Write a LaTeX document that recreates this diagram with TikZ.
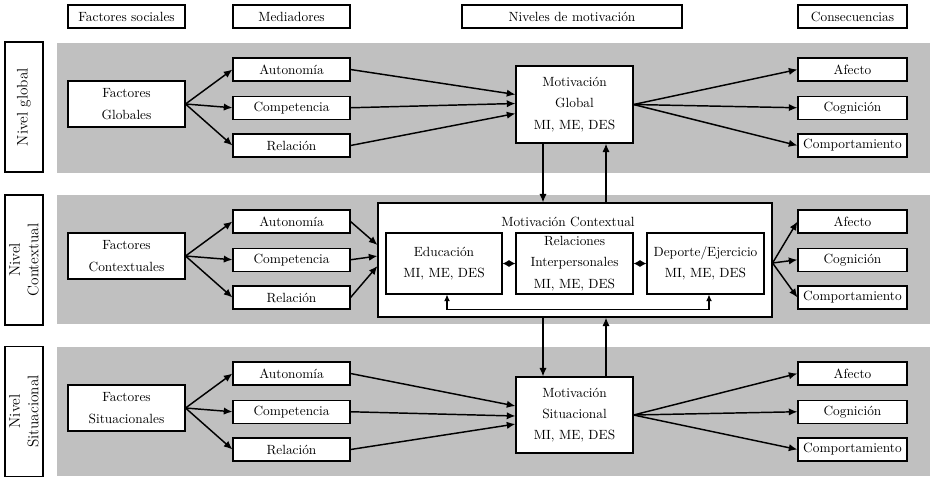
\documentclass[tikz,border=0pt]{standalone}
\usepackage{fontspec}
\usetikzlibrary{arrows.meta, calc, positioning}
\definecolor{banda}{RGB}{192,192,192}

\begin{document}
\begin{tikzpicture}[x=0.75pt, y=-0.75pt,
    caja/.style={draw, fill=white, line width=0.8pt, align=center, inner sep=0pt,
        minimum width=87.75pt, minimum height=17.25pt, font=\fontsize{10}{16}\selectfont},
    factor/.style={caja, minimum height=34.5pt},
    conse/.style={caja, minimum width=81.75pt},
    nivel/.style={caja, rotate=90, minimum width=97.5pt, minimum height=28.5pt,
        font=\fontsize{11.5}{14}\selectfont},
    flecha/.style={line width=1.1pt, -{Latex[length=6.5pt, width=5.5pt]}},
    doble/.style={line width=1pt, {Latex[length=5pt, width=5.5pt]}-{Latex[length=5pt, width=5.5pt]}}]

    \useasboundingbox (0,0) rectangle (930,476);

    % bandas de fondo
    \fill[banda] (57,43) rectangle (930,173);
    \fill[banda] (57,195) rectangle (930,324);
    \fill[banda] (57,347) rectangle (930,476);

    % cabeceras
    \node[caja] (hfs) at (126.5,16.5) {Factores sociales};
    \node[caja] (hmed) at (291.5,16.5) {Mediadores};
    \node[caja, minimum width=165pt] (hniv) at (572,16.5) {Niveles de motivación};
    \node[conse] (hcon) at (852.5,16.5) {Consecuencias};

    % niveles
    \node[nivel] (ng) at (24,107) {Nivel global};
    \node[nivel] (nc) at (24,260) {Nivel\\Contextual};
    \node[nivel] (ns) at (24,411.5) {Nivel\\Situacional};

    % filas: factores, mediadores y consecuencias
    \foreach \n/\y/\fac in {g/104/Globales, c/256/Contextuales, s/408/Situacionales}{
        \node[factor] (f\n) at (126.5,\y) {Factores\\\fac};
        \node[caja] (a\n) at (291.5,\y-34.5) {Autonomía};
        \node[caja] (c\n) at (291.5,\y+3.75) {Competencia};
        \node[caja] (r\n) at (291.5,\y+41.5) {Relación};
        \node[conse] (af\n) at (852.5,\y-34.5) {Afecto};
        \node[conse] (co\n) at (852.5,\y+3.75) {Cognición};
        \node[conse] (cp\n) at (852.5,\y+41.5) {Comportamiento};
        \draw[flecha] (f\n.east) -- (a\n.west);
        \draw[flecha] (f\n.east) -- (c\n.west);
        \draw[flecha] (f\n.east) -- (r\n.west);
    }

    % motivacion
    \node[caja, minimum height=57.75pt] (mg) at (574.5,104.5) {Motivación\\Global\\MI, ME, DES};
    \node[caja, minimum width=295.5pt, minimum height=85.5pt] (mc) at (575,260) {};
    \node[font=\fontsize{10}{16}\selectfont, inner sep=0pt] (mct) at (568,222) {Motivación Contextual};
    \node[caja, minimum width=87pt, minimum height=45.75pt] (edu) at (444,263.5) {Educación\\MI, ME, DES};
    \node[caja, minimum height=45.75pt] (rel) at (574.5,263.5) {Relaciones\\Interpersonales\\MI, ME, DES};
    \node[caja, minimum height=45.75pt] (dep) at (705.5,263.5) {Deporte/Ejercicio\\MI, ME, DES};
    \node[caja, minimum height=57pt] (ms) at (574.5,415) {Motivación\\Situacional\\MI, ME, DES};

    % mediadores -> motivacion
    \draw[flecha] (ag.east) -- ($(mg.west)+(0,-10)$);
    \draw[flecha] (cg.east) -- ($(mg.west)+(0,-1)$);
    \draw[flecha] (rg.east) -- ($(mg.west)+(0,9)$);
    \draw[flecha] (ac.east) -- ($(mc.west)+(0,-15)$);
    \draw[flecha] (cc.east) -- ($(mc.west)+(0,-4)$);
    \draw[flecha] (rc.east) -- ($(mc.west)+(0,6)$);
    \draw[flecha] (as.east) -- ($(ms.west)+(0,-9)$);
    \draw[flecha] (cs.east) -- ($(ms.west)+(0,1)$);
    \draw[flecha] (rs.east) -- ($(ms.west)+(0,9)$);

    % motivacion -> consecuencias
    \coordinate (mcs) at ($(mc.east)+(0,3)$);
    \foreach \n/\src in {g/mg.east, c/mcs, s/ms.east}{
        \draw[flecha] (\src) -- (af\n.west);
        \draw[flecha] (\src) -- (co\n.west);
        \draw[flecha] (\src) -- (cp\n.west);
    }

    % entre niveles
    \coordinate (b1) at ($(mg.south)+(-31.5,0)$);
    \coordinate (s1) at ($(mg.south)+(31.5,0)$);
    \coordinate (b2) at ($(ms.north)+(-31.5,0)$);
    \coordinate (s2) at ($(ms.north)+(31.5,0)$);
    \draw[flecha] (b1) -- (b1 |- mc.north);
    \draw[flecha] (s1 |- mc.north) -- (s1);
    \draw[flecha] (b2 |- mc.south) -- (b2);
    \draw[flecha] (s2) -- (s2 |- mc.south);

    % contextos
    \draw[doble] (edu.east) -- (rel.west);
    \draw[doble] (rel.east) -- (dep.west);
    \draw[line width=0.8pt, {Latex[length=5pt, width=4.5pt]}-{Latex[length=5pt, width=4.5pt]}]
        ($(edu.south)+(3,0)$) -- ++(0,15) -| ($(dep.south)+(3.5,0)$);

\end{tikzpicture}
\end{document}
